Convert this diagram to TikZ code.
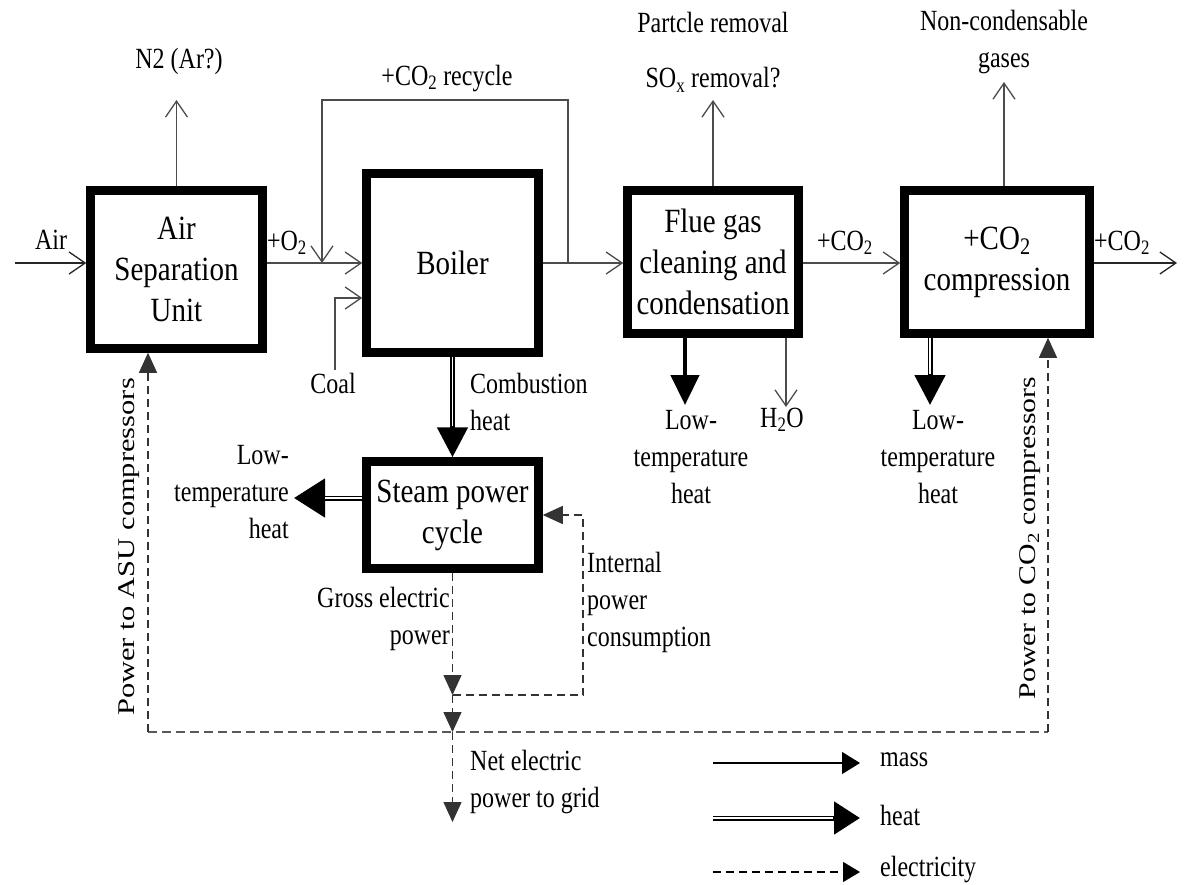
\documentclass[tikz,border=0pt]{standalone}
\usepackage{fontspec}
\setmainfont{Liberation Serif}
\usepackage{graphicx}
\usetikzlibrary{arrows.meta}
\newcommand\vst[1]{\scalebox{1}[1.17]{#1}}
\newcommand\vsl[1]{\scalebox{1}[1.22]{#1}}
\begin{document}
\begin{tikzpicture}[x=1pt,y=-1pt,
  box/.style={draw, line width=8.5pt, inner sep=0pt, align=center, font=\fontsize{29}{41}\selectfont},
  lbl/.style={inner sep=0pt, align=center, font=\fontsize{24}{37}\selectfont},
  mass/.style={draw=black!70, line width=1.3pt, -{Straight Barb[length=16pt,width=22pt]}},
  heat/.style={draw=black, line width=5pt, -{Triangle[length=30pt,width=30pt]},
    postaction={draw=white, line width=1.7pt, shorten >=31pt, -}},
  heatthick/.style={draw=black, line width=4.5pt, -{Triangle[length=30pt,width=28pt]}},
  elec/.style={draw=black!80, line width=1.3pt, dash pattern=on 8pt off 5pt, -{Triangle[length=20pt,width=18pt]}},
  elecline/.style={draw=black!65, line width=1.5pt, dash pattern=on 9pt off 5pt},
  legmass/.style={draw=black, line width=1.3pt, -{Triangle[length=18pt,width=22pt]}},
  legheat/.style={draw=black, line width=5pt, -{Triangle[length=26pt,width=32pt]},
    postaction={draw=white, line width=1.7pt, shorten >=27pt, -}},
  legelec/.style={draw=black, line width=1.3pt, dash pattern=on 8pt off 5pt, -{Triangle[length=17pt,width=20pt]}}
]
\useasboundingbox[fill=white] (0,0) rectangle (1186,884);

% boxes
\node[box, minimum width=172pt, minimum height=158pt] (asu) at (176.5,269.5) {\vst{Air}\\\vst{Separation}\\\vst{Unit}};
\node[box, minimum width=172pt, minimum height=179pt] (boiler) at (452.5,263) {\vst{Boiler}};
\node[box, minimum width=171pt, minimum height=143pt] (flue) at (713,262) {\vst{Flue gas}\\\vst{cleaning and}\\\vst{condensation}};
\node[box, minimum width=185pt, minimum height=143pt] (comp) at (997,262) {\vst{+CO\textsubscript{2}}\\\vst{compression}};
\node[box, minimum width=172pt, minimum height=107pt] (steam) at (452.5,515) {\vst{Steam power}\\\vst{cycle}};

% coordinates
\coordinate (m) at (0,263);
\coordinate (airin) at (15,263);
\coordinate (n2) at (176.5,100);
\coordinate (rcA) at (568,263);
\coordinate (rcB) at (568,100);
\coordinate (rcC) at (322,100);
\coordinate (rcD) at (322,263);
\coordinate (coal0) at (335,370);
\coordinate (coal1) at (335,298);
\coordinate (ftop) at (713,100);
\coordinate (ctop) at (1004,82);
\coordinate (cout) at (1177,263);
\coordinate (h2o) at (786,407);
\coordinate (slt) at (294,498);
\coordinate (flh) at (685,405);
\coordinate (cmh) at (930,405);
\coordinate (pasu) at (148,732);
\coordinate (pco2) at (1048,732);
\coordinate (g1) at (452.5,695);
\coordinate (g2) at (452.5,732);
\coordinate (g3) at (452.5,822);
\coordinate (ip1) at (583,695);
\coordinate (ip2) at (583,515);
\coordinate (lm0) at (713,763);
\coordinate (lm1) at (860,763);
\coordinate (lh0) at (713,818);
\coordinate (lh1) at (860,818);
\coordinate (le0) at (713,872);
\coordinate (le1) at (860,872);

% mass flows
\draw[mass, draw=black!85] (airin) -- (airin -| asu.west);
\draw[mass] (asu.north) -- (n2);
\draw[mass] (asu.east |- m) -- (boiler.west |- m);
\draw[mass] (rcA) -- (rcB) -- (rcC) -- (rcD);
\draw[mass] (coal0) -- (coal1) -- (coal1 -| boiler.west);
\draw[mass] (boiler.east |- m) -- (flue.west |- m);
\draw[mass] (flue.north) -- (ftop);
\draw[mass] (flue.east |- m) -- (comp.west |- m);
\draw[mass] (ctop |- comp.north) -- (ctop);
\draw[mass, draw=black!85] (comp.east |- m) -- (cout);
\draw[mass] (h2o |- flue.south) -- (h2o);

% heat flows
\draw[heat] (boiler.south) -- (steam.north);
\draw[heat, -{Triangle[length=31pt,width=38pt]}] (steam.west |- slt) -- (slt);
\draw[heatthick] (flh |- flue.south) -- (flh);
\draw[heat] (cmh |- comp.south) -- (cmh);

% electricity
\draw[elecline] (pasu) -- (pco2);
\draw[elec] (pasu) -- (pasu |- asu.south);
\draw[elec] (pco2) -- (pco2 |- comp.south);
\draw[elec] (steam.south) -- (g1);
\draw[elec] (g1) -- (g2);
\draw[elec] (g2) -- (g3);
\draw[elec] (g1) -- (ip1) -- (ip2) -- (ip2 -| steam.east);

% labels
\node[lbl] (lair) at (51,240) {\vsl{Air}};
\node[lbl] (lo2) at (287,243) {\vsl{+O\textsubscript{2}}};
\node[lbl] (ln2) at (179,61) {\vsl{N2 (Ar?)}};
\node[lbl] (lrec) at (447,78) {\vsl{+CO\textsubscript{2} recycle}};
\node[lbl] (lpart) at (713,22) {\vsl{Partcle removal}};
\node[lbl] (lsox) at (713,80) {\vsl{SO\textsubscript{x} removal?}};
\node[lbl] (lnc) at (1004,42) {\vsl{Non-condensable}\\\vsl{gases}};
\node[lbl] (lco2a) at (845,243) {\vsl{+CO\textsubscript{2}}};
\node[lbl] (lco2b) at (1122,243) {\vsl{+CO\textsubscript{2}}};
\node[lbl] (lcoal) at (333,383) {\vsl{Coal}};
\node[lbl, anchor=west, align=left] (lcomb) at (470,402) {\vsl{Combustion}\\\vsl{heat}};
\node[lbl, anchor=east, align=right] (lslt) at (289,492) {\vsl{Low-}\\\vsl{temperature}\\\vsl{heat}};
\node[lbl] (lflt) at (691,457) {\vsl{Low-}\\\vsl{temperature}\\\vsl{heat}};
\node[lbl] (lh2o) at (782,420) {\vsl{H\textsubscript{2}O}};
\node[lbl] (lclt) at (938,457) {\vsl{Low-}\\\vsl{temperature}\\\vsl{heat}};
\node[lbl, anchor=west, align=left] (lint) at (587,602) {\vsl{Internal}\\\vsl{power}\\\vsl{consumption}};
\node[lbl, anchor=east, align=right] (lgross) at (450,619) {\vsl{Gross electric}\\\vsl{power}};
\node[lbl, anchor=west, align=left] (lnet) at (470,782) {\vsl{Net electric}\\\vsl{power to grid}};
\node[lbl, rotate=90] (lpasu) at (129,547) {\scalebox{1.27}[1]{Power to ASU compressors}};
\node[lbl, rotate=90] (lpco2) at (1030,538) {\scalebox{1.24}[1]{Power to CO\textsubscript{2} compressors}};

% legend
\draw[legmass] (lm0) -- (lm1);
\draw[legheat] (lh0) -- (lh1);
\draw[legelec] (le0) -- (le1);
\node[lbl, anchor=west] (lmass) at (880,760) {\vsl{mass}};
\node[lbl, anchor=west] (lheat) at (880,815) {\vsl{heat}};
\node[lbl, anchor=west] (lelec) at (880,869) {\vsl{electricity}};
\end{tikzpicture}
\end{document}
